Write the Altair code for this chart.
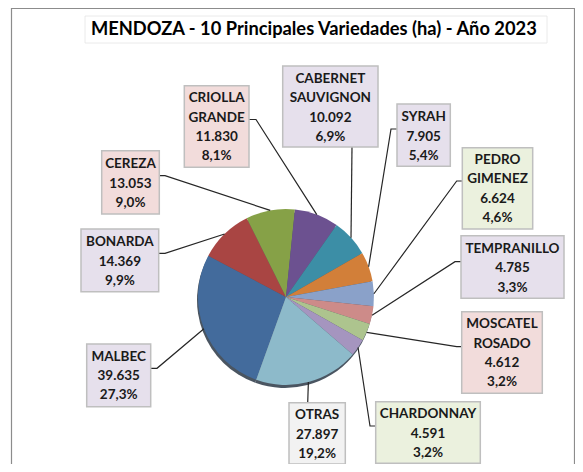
import math
import altair as alt
import pandas as pd

# ---------------- data ----------------
varieties = ["MALBEC", "BONARDA", "CEREZA", "CRIOLLA GRANDE", "CABERNET SAUVIGNON",
             "SYRAH", "PEDRO GIMENEZ", "TEMPRANILLO", "MOSCATEL ROSADO", "CHARDONNAY", "OTRAS"]
label_names = ["MALBEC", "BONARDA", "CEREZA", "CRIOLLA\nGRANDE", "CABERNET\nSAUVIGNON",
               "SYRAH", "PEDRO\nGIMENEZ", "TEMPRANILLO", "MOSCATEL\nROSADO", "CHARDONNAY", "OTRAS"]
hectares = [39635, 14369, 13053, 11830, 10092, 7905, 6624, 4785, 4612, 4591, 27897]
value_labels = ["39.635", "14.369", "13.053", "11.830", "10.092", "7.905", "6.624",
                "4.785", "4.612", "4.591", "27.897"]
pct_labels = ["27,3%", "9,9%", "9,0%", "8,1%", "6,9%", "5,4%", "4,6%", "3,3%", "3,2%", "3,2%", "19,2%"]
title_text = "MENDOZA - 10 Principales Variedades (ha) - Año 2023"

# ---------------- styles / layout ----------------
slice_colors = ["#436B9C", "#A94543", "#86A147", "#6C5190", "#3C8EA6", "#D27F39",
                "#8AA1C9", "#CD8B89", "#ADC48E", "#A595BF", "#8DBACA"]
PINK, LAV, GRN, GRY = "#F2DCDB", "#E6E0EC", "#EBF1DE", "#F2F2F2"
box_fill = [LAV, LAV, PINK, PINK, LAV, LAV, GRN, LAV, PINK, GRN, GRY]
# boxes in page pixels: x1, y1, x2, y2
boxes = [(86.7, 344, 150.7, 406.7), (81, 229, 158.7, 291.7), (101.7, 150.7, 159.3, 214),
         (184.3, 85.7, 249, 167.3), (282.7, 66, 378, 147), (397, 104, 450.3, 166.3),
         (462.3, 147.7, 532.7, 229), (461, 235.7, 564, 298.3), (461.7, 311.7, 542.3, 393.3),
         (375.7, 401.7, 480.3, 463.3), (289, 402.7, 345.3, 464)]
first_line_y = [356.7, 242.3, 164.3, 98.3, 79, 117.3, 160, 249, 324.3, 414.3, 415.3]
# leader line: attach point on the box, then elbow
attach = [(150.7, 368.3), (158.7, 253.3), (159.3, 175.7), (249, 119.5), (352, 147),
          (397, 129), (462.3, 181), (461, 261.7), (461.7, 346.7), (375.7, 426), (307.7, 402.7)]
elbow = [(157, 368.3), (165, 253.3), (165, 175.7), (256, 119.5), (352, 147),
         (391, 129), (456.7, 181), (455, 261.7), (456.7, 346.7), (370, 426), (307.7, 402.7)]

OFF = 8
W, H = 567, 456
CX, CY, R = 286 - OFF, 297 - OFF, 88
START = math.radians(199.8)
FONT = "Lato"

# ---------------- frames ----------------
total = sum(hectares)
pie_df = pd.DataFrame({"variety": varieties, "hectares": hectares, "idx": list(range(len(varieties)))})

cum = 0.0
line_rows = []
for i, v in enumerate(hectares):
    mid = START + 2 * math.pi * (cum + v / 2) / total
    cum += v
    rx = CX + R * math.sin(mid)
    ry = CY - R * math.cos(mid)
    pts = [(attach[i][0] - OFF, attach[i][1] - OFF), (elbow[i][0] - OFF, elbow[i][1] - OFF), (rx, ry)]
    for s, (px, py) in enumerate(pts):
        line_rows.append({"variety": varieties[i], "seq": s, "px": px, "py": py})
lines_df = pd.DataFrame(line_rows)

box_df = pd.DataFrame({
    "variety": varieties,
    "x1": [b[0] - OFF for b in boxes], "y1": [b[1] - OFF for b in boxes],
    "x2": [b[2] - OFF for b in boxes], "y2": [b[3] - OFF for b in boxes],
    "fill": box_fill,
    "tx": [(b[0] + b[2]) / 2 - OFF for b in boxes],
    "ty": [t - OFF for t in first_line_y],
    "label": [f"{n}\n{v}\n{p}" for n, v, p in zip(label_names, value_labels, pct_labels)],
})

frame_df = pd.DataFrame({"x1": [3.5], "x2": [566.5], "y1": [0.5], "y2": [600]})
title_df = pd.DataFrame({"x1": [85 - OFF], "x2": [547 - OFF], "y1": [16 - OFF], "y2": [43 - OFF],
                         "tx": [91 - OFF], "ty": [30 - OFF], "t": [title_text]})

nx = dict(scale=None, axis=None)

frame = alt.Chart(frame_df).mark_rect(fill=None, stroke="#8C8C8C", strokeWidth=1.2).encode(
    x=alt.X("x1:Q", **nx), x2="x2:Q", y=alt.Y("y1:Q", **nx), y2="y2:Q")

title_shadow = alt.Chart(title_df).mark_rect(fill="#DCDCDC").encode(
    x=alt.X("x1:Q", **nx), x2="x2:Q", y=alt.Y("y1:Q", **nx), y2="y2:Q", xOffset=alt.value(2), yOffset=alt.value(3))
title_box = alt.Chart(title_df).mark_rect(fill="white", stroke="#E4E4E4", strokeWidth=0.8).encode(
    x=alt.X("x1:Q", **nx), x2="x2:Q", y=alt.Y("y1:Q", **nx), y2="y2:Q")
title_txt = alt.Chart(title_df).mark_text(font=FONT, fontSize=18.3, fontWeight="bold", color="#000000",
                                          baseline="middle", align="left").encode(
    x=alt.X("tx:Q", **nx), y=alt.Y("ty:Q", **nx), text="t:N")

theta = alt.Theta("hectares:Q", stack=True, scale=alt.Scale(range=[START, START + 2 * math.pi]))
pie_shadow = alt.Chart(pie_df).mark_arc(radius=R, color="#4A5561").encode(
    theta=theta, order=alt.Order("idx:Q"), x=alt.value(CX - 1), y=alt.value(CY + 3))
pie = alt.Chart(pie_df).mark_arc(radius=R).encode(
    theta=theta, order=alt.Order("idx:Q"), x=alt.value(CX), y=alt.value(CY),
    color=alt.Color("variety:N", scale=alt.Scale(domain=varieties, range=slice_colors), legend=None))

leaders = alt.Chart(lines_df).mark_line(color="#262626", strokeWidth=1.2).encode(
    x=alt.X("px:Q", **nx), y=alt.Y("py:Q", **nx), detail="variety:N", order="seq:Q")

label_boxes = alt.Chart(box_df).mark_rect(stroke="#BFBFBF", strokeWidth=1.5).encode(
    x=alt.X("x1:Q", **nx), x2="x2:Q", y=alt.Y("y1:Q", **nx), y2="y2:Q",
    fill=alt.Fill("fill:N", scale=None))
label_text = alt.Chart(box_df).mark_text(font=FONT, fontSize=13.5, fontWeight="bold", color="#1A1A1A",
                                         lineBreak="\n", lineHeight=19.3, baseline="middle",
                                         align="center").encode(
    x=alt.X("tx:Q", **nx), y=alt.Y("ty:Q", **nx), text="label:N")

chart = alt.layer(frame, title_shadow, title_box, title_txt, pie_shadow, pie, leaders,
                  label_boxes, label_text).properties(
    width=W, height=H, padding=0, autosize=alt.AutoSizeParams(type="none"),
    background="white").configure_view(stroke=None)

chart.save("out.html", embed_options={"renderer": "svg", "actions": False})
